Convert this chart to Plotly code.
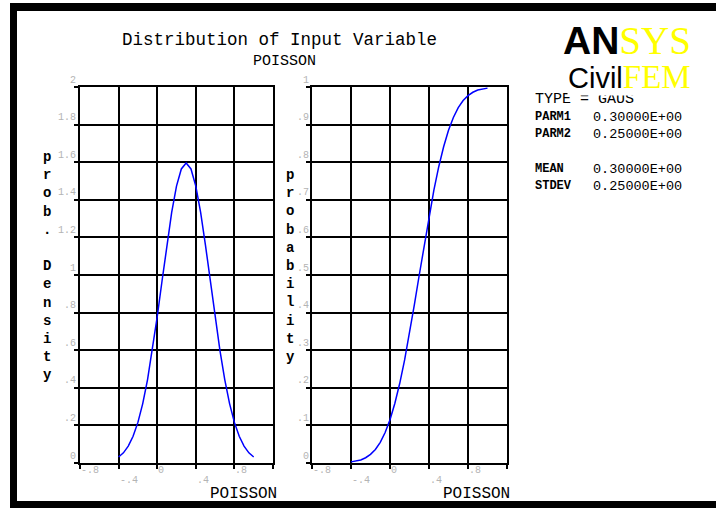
import plotly.graph_objects as go

W, H = 716, 508

# Sample points of the input variable POISSON
poisson_x = [-0.40, -0.35, -0.30, -0.25, -0.20, -0.15, -0.10, -0.05, 0.00, 0.05,
             0.10, 0.15, 0.20, 0.25, 0.30, 0.35, 0.40, 0.45, 0.50, 0.55,
             0.60, 0.65, 0.70, 0.75, 0.80, 0.85, 0.90, 0.95, 1.00]

# Probability density
density = [0.032, 0.054, 0.090, 0.142, 0.216, 0.316, 0.444, 0.599, 0.777, 0.968,
           1.159, 1.333, 1.473, 1.564, 1.596, 1.564, 1.473, 1.333, 1.159, 0.968,
           0.777, 0.599, 0.444, 0.316, 0.216, 0.142, 0.090, 0.054, 0.032]

# Cumulative probability
probability = [0.003, 0.005, 0.008, 0.014, 0.023, 0.036, 0.055, 0.081, 0.115, 0.159,
               0.212, 0.274, 0.345, 0.421, 0.500, 0.579, 0.655, 0.726, 0.788, 0.841,
               0.885, 0.919, 0.945, 0.964, 0.977, 0.986, 0.992, 0.995, 0.997]

x_tick_vals = [-0.8, -0.4, 0.0, 0.4, 0.8]
x_tick_text = ["-.8", "-.4", "0", ".4", ".8"]
pdf_tick_vals = [0, 0.2, 0.4, 0.6, 0.8, 1.0, 1.2, 1.4, 1.6, 1.8, 2.0]
pdf_tick_text = ["0", ".2", ".4", ".6", ".8", "1", "1.2", "1.4", "1.6", "1.8", "2"]
cdf_tick_vals = [0, 0.1, 0.2, 0.3, 0.4, 0.5, 0.6, 0.7, 0.8, 0.9, 1.0]
cdf_tick_text = ["0", ".1", ".2", ".3", ".4", ".5", ".6", ".7", ".8", ".9", "1"]

stats_labels = ["PARM1", "PARM2", "MEAN", "STDEV"]
stats_values = ["0.30000E+00", "0.25000E+00", "0.30000E+00", "0.25000E+00"]


def px(x):
    return x / W


def py(y):
    return 1 - y / H


MONO = "Liberation Mono"
TICK_COLOR = "#b4b4b4"

fig = go.Figure()
fig.add_trace(go.Scatter(x=poisson_x, y=density, mode="lines",
                         line=dict(color="#0000ff", width=1.5),
                         xaxis="x", yaxis="y", showlegend=False, hoverinfo="skip"))
fig.add_trace(go.Scatter(x=poisson_x, y=probability, mode="lines",
                         line=dict(color="#0000ff", width=1.5),
                         xaxis="x2", yaxis="y2", showlegend=False, hoverinfo="skip"))

axis_style = dict(showgrid=True, gridcolor="black", gridwidth=2, showline=True,
                  linecolor="black", linewidth=2, mirror=True, ticks="outside",
                  ticklen=4, tickwidth=2, tickcolor="black", showticklabels=False,
                  zeroline=False, fixedrange=True)

ydom = [py(463), py(87)]
fig.update_layout(
    width=W, height=H, margin=dict(l=0, r=0, t=0, b=0),
    paper_bgcolor="white", plot_bgcolor="white",
    xaxis=dict(domain=[px(80), px(273)], range=[-0.8, 1.2], tick0=-0.8, dtick=0.4,
               anchor="y", **axis_style),
    yaxis=dict(domain=ydom, range=[0, 2], tick0=0, dtick=0.2, anchor="x", **axis_style),
    xaxis2=dict(domain=[px(312), px(507)], range=[-0.8, 1.2], tick0=-0.8, dtick=0.4,
                anchor="y2", **axis_style),
    yaxis2=dict(domain=ydom, range=[0, 1], tick0=0, dtick=0.1, anchor="x2", **axis_style),
)

ann = []

# Staggered x tick labels under both plots
for xr in ["x", "x2"]:
    for i, (v, t) in enumerate(zip(x_tick_vals, x_tick_text)):
        ann.append(dict(x=v, xref=xr, y=py(470 if i % 2 == 0 else 480), yref="paper",
                        text=t, showarrow=False, xanchor="left", yanchor="middle",
                        borderpad=0,
                        font=dict(family=MONO, size=10, color=TICK_COLOR)))

# y tick labels sit just above their grid lines
for yr, xpos, vals, texts in [("y", 77, pdf_tick_vals, pdf_tick_text),
                              ("y2", 310, cdf_tick_vals, cdf_tick_text)]:
    for v, t in zip(vals, texts):
        ann.append(dict(x=px(xpos), xref="paper", y=v, yref=yr, yshift=7,
                        text=t, showarrow=False, xanchor="right", yanchor="middle",
                        borderpad=0,
                        font=dict(family=MONO, size=10, color=TICK_COLOR)))

# Titles
ann.append(dict(x=px(279), y=py(40), xref="paper", yref="paper",
                text="Distribution of Input Variable", showarrow=False,
                xanchor="center", yanchor="middle", borderpad=0,
                font=dict(family=MONO, size=17.5, color="black")))
ann.append(dict(x=px(284), y=py(61), xref="paper", yref="paper",
                text="POISSON", showarrow=False, xanchor="center", yanchor="middle",
                borderpad=0,
                font=dict(family=MONO, size=15, color="black")))

# Axis titles
for xc, yc in [(243, 494), (476, 494)]:
    ann.append(dict(x=px(xc), y=py(yc), xref="paper", yref="paper",
                    text="POISSON", showarrow=False,
                    xanchor="center", yanchor="middle", borderpad=0,
                    font=dict(family=MONO, size=16, color="black")))


def stacked(word):
    return "<br>".join(ch if ch != " " else "\u00a0" for ch in word)


ann.append(dict(x=px(47), y=py(266), xref="paper", yref="paper",
                text="<b>" + stacked("prob. Density") + "</b>", showarrow=False,
                xanchor="center", yanchor="middle", align="center",
                font=dict(family=MONO, size=14, color="black")))
ann.append(dict(x=px(290), y=py(266), xref="paper", yref="paper",
                text="<b>" + stacked("probability") + "</b>", showarrow=False,
                xanchor="center", yanchor="middle", align="center",
                font=dict(family=MONO, size=14, color="black")))

# Distribution parameters
ann.append(dict(x=px(533), y=py(99), xref="paper", yref="paper",
                text="TYPE = GAUS", showarrow=False, xanchor="left", yanchor="middle",
                font=dict(family=MONO, size=15, color="black")))
for lab, val, yc in zip(stats_labels, stats_values, [117, 134, 169, 186]):
    ann.append(dict(x=px(533), y=py(yc), xref="paper", yref="paper",
                    text="<b>" + lab + "</b>", showarrow=False, xanchor="left",
                    yanchor="middle", font=dict(family=MONO, size=12, color="black")))
    ann.append(dict(x=px(591), y=py(yc), xref="paper", yref="paper",
                    text=val, showarrow=False, xanchor="left",
                    yanchor="middle", font=dict(family=MONO, size=13.5, color="black")))

# Logo
ann.append(dict(x=px(627), y=py(41), xref="paper", yref="paper",
                text="<b>AN</b><span style='font-family:Liberation Serif;color:#ffff00'>SYS</span>",
                showarrow=False, xanchor="center", yanchor="middle",
                font=dict(family="Liberation Sans", size=39, color="black")))
ann.append(dict(x=px(629), y=py(77), xref="paper", yref="paper",
                text="Civil<span style='font-family:Liberation Serif;color:#ffff00;font-size:33px'>FEM</span>",
                showarrow=False, xanchor="center", yanchor="middle", bgcolor="white",
                borderpad=0,
                font=dict(family="Liberation Sans", size=29, color="black")))

fig.update_layout(annotations=ann)

# Heavy black frame (left, top, bottom)
frame = [(10, 3, 17, H), (10, 3, W, 11), (10, 501, W, H)]
fig.update_layout(shapes=[dict(type="rect", xref="paper", yref="paper",
                               x0=px(a), y0=py(d), x1=px(c), y1=py(b),
                               fillcolor="black", line=dict(width=0), layer="above")
                          for a, b, c, d in frame])

fig.write_html("out.html", config={"displayModeBar": False})
